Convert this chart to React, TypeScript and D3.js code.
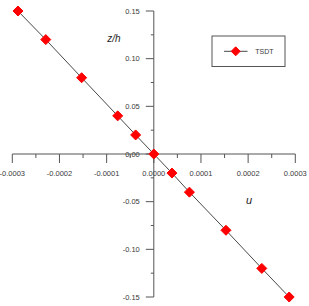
import React from "react";
import * as d3 from "d3";

const zValues = [0.15, 0.12, 0.08, 0.04, 0.02, 0, -0.02, -0.04, -0.08, -0.12, -0.15];
const uValues = [-0.000288, -0.000229, -0.000153, -0.0000765, -0.0000385, 0, 0.0000385, 0.0000755, 0.000153, 0.000229, 0.000287];
const xTicks = [-0.0003, -0.0002, -0.0001, 0, 0.0001, 0.0002, 0.0003];
const xMinor = [-0.00025, -0.00015, -0.00005, 0.00005, 0.00015, 0.00025];
const yTicks = [-0.15, -0.1, -0.05, 0, 0.05, 0.1, 0.15];
const yMinor = [-0.125, -0.075, -0.025, 0.025, 0.075, 0.125];
const seriesName = "TSDT";

export default function App() {
  const W = 309, H = 306;
  const x = d3.scaleLinear().domain([-0.0003, 0.0003]).range([12.3, 295.3]);
  const y = d3.scaleLinear().domain([-0.15, 0.15]).range([297, 11]);
  const x0 = x(0), y0 = y(0);
  const pts = uValues.map((u, i) => [x(u), y(zValues[i])] as [number, number]);
  const line = d3.line()(pts) || "";
  const diamond = (cx: number, cy: number, r = 5) =>
    `M${cx},${cy - r}L${cx + r},${cy}L${cx},${cy + r}L${cx - r},${cy}Z`;
  const font = "Liberation Sans, Arial, sans-serif";
  const axisColor = "#555";
  const textColor = "#3a3a3a";
  return (
    <svg width={W} height={H} style={{ position: "absolute", left: 0, top: 0, background: "#fff" }} fontFamily={font}>
      {/* x axis */}
      <line x1={x(-0.0003)} x2={x(0.0003)} y1={y0} y2={y0} stroke={axisColor} strokeWidth={1} />
      {xTicks.map((t) => (
        <g key={"xt" + t}>
          <line x1={x(t)} x2={x(t)} y1={y0} y2={y0 + 9} stroke={axisColor} strokeWidth={1} />
          <text x={x(t)} y={y0 + 22} textAnchor="middle" fontSize={7.5} fill={textColor}>
            {t.toFixed(4)}
          </text>
        </g>
      ))}
      {xMinor.map((t) => (
        <line key={"xm" + t} x1={x(t)} x2={x(t)} y1={y0} y2={y0 + 4} stroke={axisColor} strokeWidth={1} />
      ))}
      {/* y axis */}
      <line x1={x0} x2={x0} y1={y(0.15)} y2={y(-0.15)} stroke={axisColor} strokeWidth={1} />
      {yTicks.map((t) => (
        <g key={"yt" + t}>
          <line x1={x0 - 8} x2={x0} y1={y(t)} y2={y(t)} stroke={axisColor} strokeWidth={1} />
          <text x={x0 - 14} y={y(t) + 2.7} textAnchor="end" fontSize={7.5} fill={textColor}>
            {t.toFixed(2)}
          </text>
        </g>
      ))}
      {yMinor.map((t) => (
        <line key={"ym" + t} x1={x0 - 3} x2={x0} y1={y(t)} y2={y(t)} stroke={axisColor} strokeWidth={1} />
      ))}
      {/* axis titles */}
      <text x={114} y={42} textAnchor="middle" fontSize={10} fontStyle="italic" fill="#222">z/h</text>
      <text x={249} y={204} textAnchor="middle" fontSize={11} fontStyle="italic" fill="#222">u</text>
      {/* data */}
      <path d={line} fill="none" stroke="#333" strokeWidth={0.9} />
      {pts.map(([px, py], i) => (
        <path key={"p" + i} d={diamond(px, py, 5)} fill="#ff0000" stroke="#ff0000" strokeWidth={1} strokeLinejoin="round" />
      ))}
      {/* legend */}
      <rect x={212} y={36} width={73} height={30.5} fill="#fff" stroke="#555" strokeWidth={1} />
      <line x1={224} x2={247.5} y1={51.3} y2={51.3} stroke="#333" strokeWidth={0.9} />
      <path d={diamond(235.7, 51.3, 4.5)} fill="#ff0000" stroke="#ff0000" strokeWidth={1} strokeLinejoin="round" />
      <text x={255.3} y={54} fontSize={7} fill={textColor}>{seriesName}</text>
    </svg>
  );
}
